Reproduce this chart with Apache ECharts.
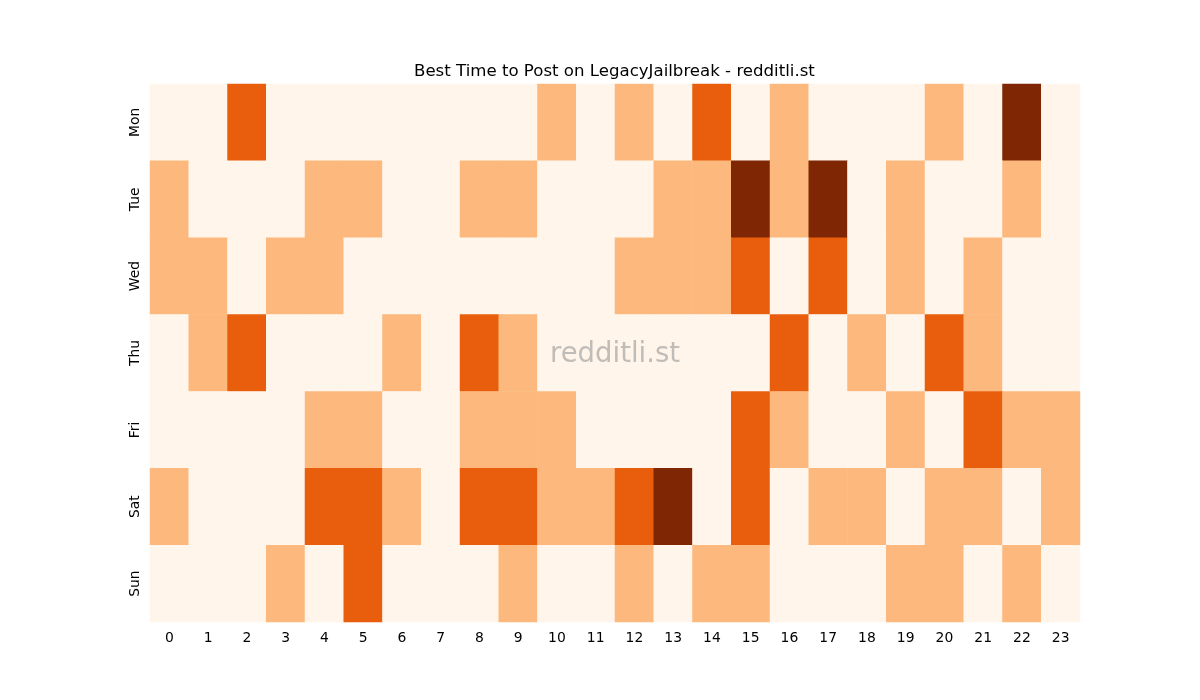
<!DOCTYPE html>
<html>
<head>
<meta charset="utf-8">
<script src="https://cdn.jsdelivr.net/npm/echarts@6/dist/echarts.min.js"></script>
<style>
  html, body { margin: 0; padding: 0; background: #fff; }
  #chart { width: 1200px; height: 700px; }
</style>
</head>
<body>
<div id="chart"></div>
<script>
var hours = ["0","1","2","3","4","5","6","7","8","9","10","11","12","13","14","15","16","17","18","19","20","21","22","23"];
var days = ["Mon", "Tue", "Wed", "Thu", "Fri", "Sat", "Sun"];

// activity level per hour (0..3)
var mon = [0,0,2,0,0,0,0,0,0,0,1,0,1,0,2,0,1,0,0,0,1,0,3,0];
var tue = [1,0,0,0,1,1,0,0,1,1,0,0,0,1,1,3,1,3,0,1,0,0,1,0];
var wed = [1,1,0,1,1,0,0,0,0,0,0,0,1,1,1,2,0,2,0,1,0,1,0,0];
var thu = [0,1,2,0,0,0,1,0,2,1,0,0,0,0,0,0,2,0,1,0,2,1,0,0];
var fri = [0,0,0,0,1,1,0,0,1,1,1,0,0,0,0,2,1,0,0,1,0,2,1,1];
var sat = [1,0,0,0,2,2,1,0,2,2,1,1,2,3,0,2,0,1,1,0,1,1,0,1];
var sun = [0,0,0,1,0,2,0,0,0,1,0,0,1,0,1,1,0,0,0,1,1,0,1,0];

var rows = [mon, tue, wed, thu, fri, sat, sun];
var data = [];
rows.forEach(function (row, d) {
  row.forEach(function (v, h) {
    data.push([h, d, v]);
  });
});

var font = "DejaVu Sans";
var chart = echarts.init(document.getElementById("chart"));
chart.setOption({
  animation: false,
  title: {
    text: "Best Time to Post on LegacyJailbreak - redditli.st",
    left: 409,
    top: 58,
    textStyle: { fontFamily: font, fontSize: 16.6, fontWeight: "normal", color: "#000" }
  },
  grid: { left: 150, right: 120, top: 84, bottom: 78 },
  xAxis: {
    type: "category",
    data: hours,
    axisLine: { show: false },
    axisTick: { alignWithLabel: true, length: 4, lineStyle: { color: "#000" } },
    axisLabel: { fontFamily: font, fontSize: 13.9, color: "#000", margin: 9 },
    splitLine: { show: false }
  },
  yAxis: {
    type: "category",
    data: days,
    inverse: true,
    axisLine: { show: false },
    axisTick: { alignWithLabel: true, length: 4, lineStyle: { color: "#000" } },
    axisLabel: { fontFamily: font, fontSize: 13.9, color: "#000", rotate: 90, margin: 8 },
    splitLine: { show: false }
  },
  visualMap: {
    show: false,
    type: "piecewise",
    dimension: 2,
    pieces: [
      { value: 0, color: "#fff5eb" },
      { value: 1, color: "#fdb97d" },
      { value: 2, color: "#e95e0d" },
      { value: 3, color: "#7f2704" }
    ]
  },
  graphic: [{
    type: "text",
    left: 550,
    top: 341,
    z: 100,
    style: {
      text: "redditli.st",
      fontFamily: font,
      fontSize: 27.5,
      fill: "rgba(150,150,150,0.6)"
    }
  }],
  series: [{
    type: "heatmap",
    data: data,
    itemStyle: { borderWidth: 0 },
    emphasis: { disabled: true }
  }]
});
</script>
</body>
</html>
